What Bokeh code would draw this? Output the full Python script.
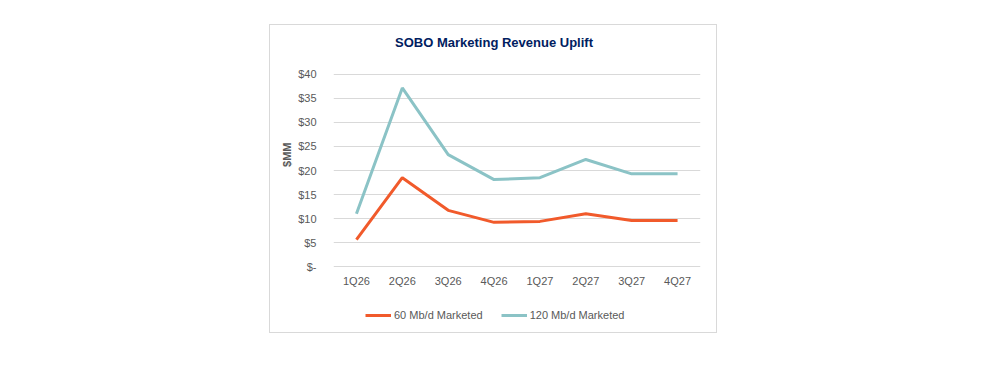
from bokeh.plotting import figure
from bokeh.models import (FactorRange, Range1d, FixedTicker, Title, Label, Legend, LegendItem)
from bokeh.embed import file_html
from bokeh.resources import INLINE

quarters = ["1Q26", "2Q26", "3Q26", "4Q26", "1Q27", "2Q27", "3Q27", "4Q27"]
mkt_60 = [5.6, 18.5, 11.7, 9.2, 9.4, 11.0, 9.6, 9.6]
mkt_120 = [11.0, 37.2, 23.3, 18.1, 18.5, 22.3, 19.3, 19.3]
y_ticks = [0, 5, 10, 15, 20, 25, 30, 35, 40]
y_tick_labels = ["$-", "$5", "$10", "$15", "$20", "$25", "$30", "$35", "$40"]

FONT = "Liberation Sans"
GRAY = "#595959"

# frame extends above and below the value axis so title and legend sit inside it
p = figure(width=448, height=309, x_range=FactorRange(*quarters, range_padding=0),
           y_range=Range1d(-12.0833, 50.2083), output_backend="svg", toolbar_location=None,
           min_border_left=63, min_border_right=18, min_border_top=0, min_border_bottom=10)
p.title = None
p.outline_line_color = None
p.margin = (24, 0, 0, 269)
p.styles = {"border": "1px solid #d9d9d9"}

p.xgrid.grid_line_color = None
p.ygrid.grid_line_color = "#d9d9d9"
p.ygrid.grid_line_width = 1

p.yaxis.ticker = FixedTicker(ticks=y_ticks)
p.yaxis.major_label_overrides = {t: l for t, l in zip(y_ticks, y_tick_labels)}
p.xaxis.fixed_location = 0
for ax in (p.xaxis[0], p.yaxis[0]):
    ax.axis_line_color = None
    ax.major_tick_line_color = None
    ax.minor_tick_line_color = None
    ax.major_label_text_font = FONT
    ax.major_label_text_font_size = "11px"
    ax.major_label_text_color = GRAY
p.yaxis.major_label_standoff = 11
p.xaxis.major_label_standoff = 2

r60 = p.line(quarters, mkt_60, line_color="#F15A2B", line_width=3)
r120 = p.line(quarters, mkt_120, line_color="#8BC3C6", line_width=3)

legend = Legend(items=[LegendItem(label="60 Mb/d Marketed", renderers=[r60]),
                       LegendItem(label="120 Mb/d Marketed", renderers=[r120])],
                orientation="horizontal", location=(32, 2))
legend.padding = 0
legend.margin = 0
legend.spacing = 18
legend.glyph_width = 26
legend.glyph_height = 14
legend.label_height = 14
legend.label_standoff = 3
legend.label_text_font = FONT
legend.label_text_font_size = "11px"
legend.label_text_color = GRAY
legend.border_line_color = None
legend.background_fill_alpha = 0
p.add_layout(legend, "center")

title = Label(x=160.5, y=282, x_units="screen", y_units="screen",
              text="SOBO Marketing Revenue Uplift", text_align="center", text_baseline="middle",
              text_font=FONT, text_font_size="13px", text_font_style="bold",
              text_color="#002060")
p.add_layout(title)

ylab = Title(text="$MM", align="right", offset=117, standoff=6,
             text_font=FONT, text_font_size="11px", text_font_style="bold",
             text_color=GRAY)
p.add_layout(ylab, "left")

open("out.html", "w").write(file_html(p, INLINE))
